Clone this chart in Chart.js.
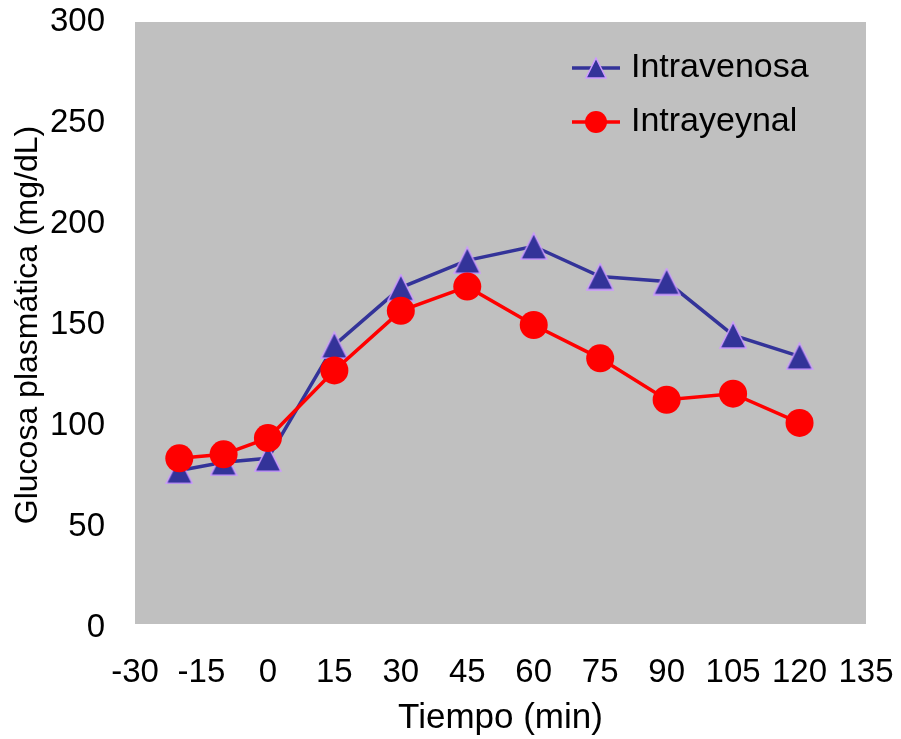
<!DOCTYPE html>
<html>
<head>
<meta charset="utf-8">
<script src="https://cdn.jsdelivr.net/npm/chart.js@4.4.0/dist/chart.umd.min.js"></script>
<style>
  body { margin: 0; background: #FFFFFF; }
  #glucoseChart { display: block; }
</style>
</head>
<body>
<canvas id="glucoseChart" width="901" height="739"></canvas>
<script>
// ===================================
// DATA
// ===================================

const timePoints = [-20, -10, 0, 15, 30, 45, 60, 75, 90, 105, 120];
const intravenosa = [78, 82, 84, 140, 168.5, 182, 189, 174, 171.5, 145, 134.5];
const intrayeynal = [84, 86, 94, 127.5, 157, 169, 150, 133.5, 113, 116, 101.5];

const seriesNames = ['Intravenosa', 'Intrayeynal'];
const xAxisTitle = 'Tiempo (min)';
const yAxisTitle = 'Glucosa plasmática (mg/dL)';

const FONT = "'Liberation Sans', Arial, sans-serif";
const BLUE = '#333399';
const RED = '#FF0000';

// ===================================
// MARKERS
// ===================================

/**
 * Excel-like triangle marker (centred on its bounding box)
 */
function makeTriangle(size) {
    const c = document.createElement('canvas');
    c.width = size;
    c.height = size;
    const g = c.getContext('2d');
    g.beginPath();
    g.moveTo(size / 2, 1);
    g.lineTo(size - 1, size - 1);
    g.lineTo(1, size - 1);
    g.closePath();
    g.fillStyle = BLUE;
    g.fill();
    g.strokeStyle = '#CC99FF';
    g.lineWidth = 1.5;
    g.stroke();
    return c;
}

const triangleMarker = makeTriangle(28);
const triangleLegend = makeTriangle(22);

// ===================================
// PLUGINS
// ===================================

// grey plot area
const plotBackground = {
    id: 'plotBackground',
    beforeDraw(chart) {
        const { ctx, chartArea } = chart;
        ctx.save();
        ctx.fillStyle = '#C0C0C0';
        ctx.fillRect(chartArea.left, chartArea.top,
            chartArea.right - chartArea.left, chartArea.bottom - chartArea.top - 4);
        ctx.restore();
    }
};

// legend with line through marker, like the original
const lineLegend = {
    id: 'lineLegend',
    afterDraw(chart) {
        const { ctx } = chart;
        const x0 = 572, x1 = 620, textX = 631;
        const rows = [68, 122];
        ctx.save();
        ctx.font = '34px ' + FONT;
        ctx.textBaseline = 'middle';
        ctx.textAlign = 'left';

        // Intravenosa
        ctx.strokeStyle = BLUE;
        ctx.lineWidth = 3.5;
        ctx.beginPath();
        ctx.moveTo(x0, rows[0]);
        ctx.lineTo(x1, rows[0]);
        ctx.stroke();
        ctx.drawImage(triangleLegend, (x0 + x1) / 2 - 11, rows[0] - 11);
        ctx.fillStyle = '#000000';
        ctx.fillText(seriesNames[0], textX, rows[0]);

        // Intrayeynal
        ctx.strokeStyle = RED;
        ctx.beginPath();
        ctx.moveTo(x0, rows[1]);
        ctx.lineTo(x1, rows[1]);
        ctx.stroke();
        ctx.fillStyle = RED;
        ctx.beginPath();
        ctx.arc((x0 + x1) / 2, rows[1], 11, 0, Math.PI * 2);
        ctx.fill();
        ctx.fillStyle = '#000000';
        ctx.fillText(seriesNames[1], textX, rows[1]);
        ctx.restore();
    }
};

// ===================================
// CHART
// ===================================

const ctx = document.getElementById('glucoseChart').getContext('2d');

const config = {
    type: 'line',
    data: {
        datasets: [
            {
                label: seriesNames[0],
                data: timePoints.map((t, i) => ({ x: t, y: intravenosa[i] })),
                borderColor: BLUE,
                borderWidth: 3.5,
                pointStyle: triangleMarker,
                pointRadius: 14,
                tension: 0,
                order: 2
            },
            {
                label: seriesNames[1],
                data: timePoints.map((t, i) => ({ x: t, y: intrayeynal[i] })),
                borderColor: RED,
                backgroundColor: RED,
                borderWidth: 3.5,
                pointStyle: 'circle',
                pointRadius: 14,
                pointBorderWidth: 0,
                pointBackgroundColor: RED,
                tension: 0,
                order: 1
            }
        ]
    },
    options: {
        responsive: false,
        animation: false,
        layout: {
            padding: { top: 22, right: 35, left: 0, bottom: 0 }
        },
        plugins: {
            legend: { display: false },
            tooltip: { enabled: false }
        },
        scales: {
            x: {
                type: 'linear',
                min: -30,
                max: 135,
                border: { display: false },
                grid: { display: false, drawTicks: false },
                ticks: {
                    stepSize: 15,
                    padding: 25,
                    color: '#000000',
                    font: { family: FONT, size: 33 },
                    maxRotation: 0
                },
                title: {
                    display: true,
                    text: xAxisTitle,
                    color: '#000000',
                    font: { family: FONT, size: 35 },
                    padding: { top: 0, bottom: 0 }
                },
                afterFit(scale) {
                    scale.height = 111;
                    scale.paddingLeft = 0;
                    scale.paddingRight = 0;
                }
            },
            y: {
                min: 0,
                max: 300,
                border: { display: false },
                grid: { display: false, drawTicks: false },
                ticks: {
                    stepSize: 50,
                    padding: 30,
                    color: '#000000',
                    font: { family: FONT, size: 33 }
                },
                title: {
                    display: true,
                    text: yAxisTitle,
                    color: '#000000',
                    font: { family: FONT, size: 32 },
                    padding: { top: 9, bottom: 0 }
                },
                afterFit(scale) {
                    scale.width = 135;
                    scale.paddingTop = 0;
                    scale.paddingBottom = 0;
                }
            }
        }
    },
    plugins: [plotBackground, lineLegend]
};

const chartInstance = new Chart(ctx, config);
</script>
</body>
</html>
